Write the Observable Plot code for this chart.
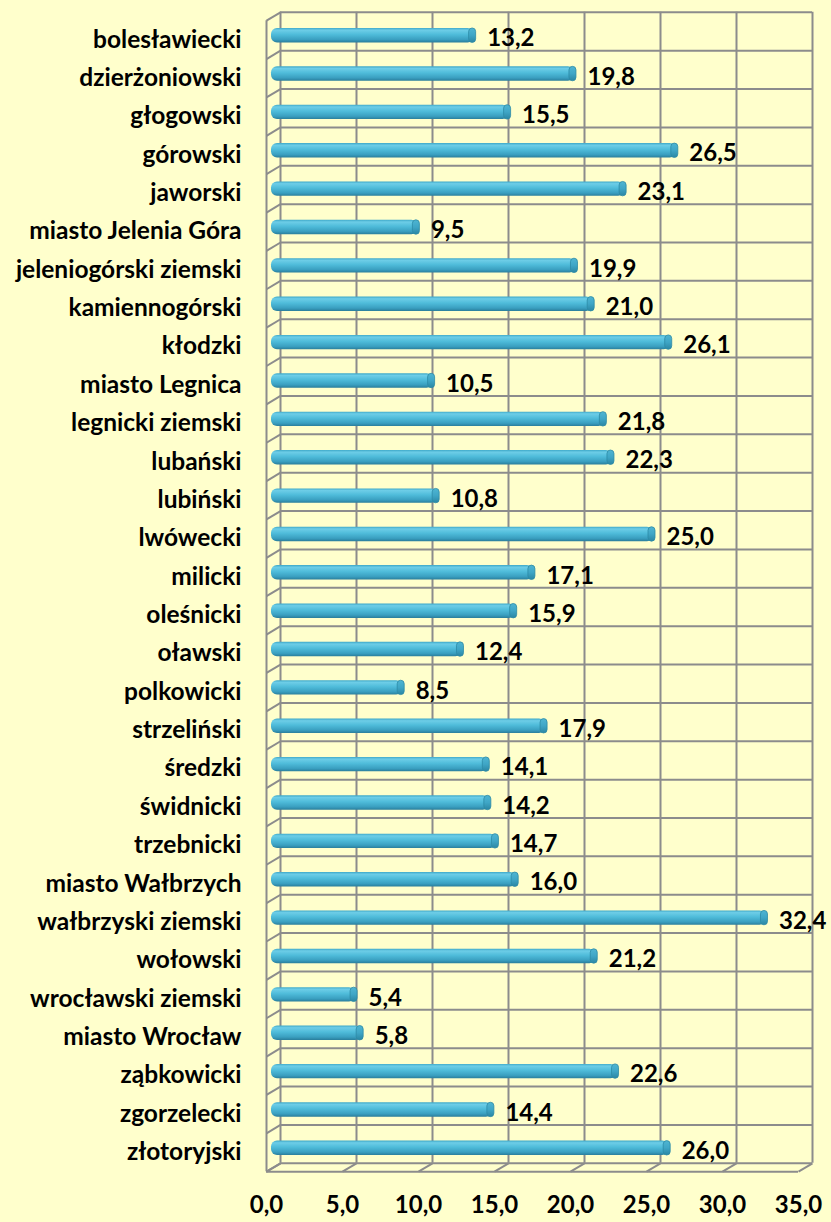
<!DOCTYPE html>
<html>
<head>
<meta charset="utf-8">
<script src="https://cdn.jsdelivr.net/npm/d3@7"></script>
<script src="https://cdn.jsdelivr.net/npm/@observablehq/plot@0.6"></script>
<style>
  html, body { margin: 0; padding: 0; background: #FFFFCC; }
  #chart svg { display: block; font-family: Lato, "Open Sans", sans-serif; font-weight: bold; color: #000; }
</style>
</head>
<body>
<div id="chart"></div>
<script>
const names = [
  "bolesławiecki", "dzierżoniowski", "głogowski", "górowski", "jaworski",
  "miasto Jelenia Góra", "jeleniogórski ziemski", "kamiennogórski", "kłodzki", "miasto Legnica",
  "legnicki ziemski", "lubański", "lubiński", "lwówecki", "milicki",
  "oleśnicki", "oławski", "polkowicki", "strzeliński", "średzki",
  "świdnicki", "trzebnicki", "miasto Wałbrzych", "wałbrzyski ziemski", "wołowski",
  "wrocławski ziemski", "miasto Wrocław", "ząbkowicki", "zgorzelecki", "złotoryjski"
];
const values = [
  13.2, 19.8, 15.5, 26.5, 23.1,
  9.5, 19.9, 21.0, 26.1, 10.5,
  21.8, 22.3, 10.8, 25.0, 17.1,
  15.9, 12.4, 8.5, 17.9, 14.1,
  14.2, 14.7, 16.0, 32.4, 21.2,
  5.4, 5.8, 22.6, 14.4, 26.0
];
const xTicks = [0, 5, 10, 15, 20, 25, 30, 35];

const data = names.map((name, i) => ({name, i, value: values[i]}));
const fmt = (v) => v.toFixed(1).replace(".", ",");

const W = 831, H = 1222;
const ML = 273, MR = 26, MT = 16, MB = 55;
const xMax = 35;
const n = names.length;
const kx = (W - ML - MR) / xMax;
const ky = (H - MT - MB) / n;
const ox = 7 / kx;      // depth offset in x (data units)
const oy = 4.2 / ky;    // depth offset in y (index units)
const halfBar = 7.2 / ky;

const boundaries = d3.range(n + 1).map(k => k - 0.5);
const yTop = -0.5, yBottom = n - 0.5;
const grid = {stroke: "#8C8C8C", strokeWidth: 2};

const plot = Plot.plot({
  width: W, height: H,
  marginLeft: ML, marginRight: MR, marginTop: MT, marginBottom: MB,
  x: {domain: [0, xMax]},
  y: {domain: [yTop, yBottom], reverse: true},
  style: {background: "#FFFFCC", overflow: "visible"},
  marks: [
    // back wall
    Plot.ruleX(xTicks, {x: t => t + ox, y1: yTop - oy, y2: yBottom - oy, ...grid}),
    Plot.ruleY(boundaries, {y: b => b - oy, x1: ox, x2: xMax + ox, ...grid}),
    // left side wall
    Plot.link(boundaries, {x1: ox, y1: b => b - oy, x2: -ox, y2: b => b + oy, ...grid}),
    Plot.ruleX([-ox], {y1: yTop + oy, y2: yBottom + oy, ...grid}),
    // floor
    Plot.link(xTicks, {x1: t => t + ox, y1: yBottom - oy, x2: t => t - ox, y2: yBottom + oy, ...grid}),
    Plot.ruleY([yBottom + oy], {x1: -ox, x2: xMax - ox, ...grid}),
    // bars
    Plot.rect(data, {x1: 0, x2: "value", y1: d => d.i - halfBar, y2: d => d.i + halfBar,
      fill: "url(#barGrad)", rx: 6, insetLeft: -2}),
    // end caps
    Plot.rect(data, {x1: "value", x2: "value", y1: d => d.i - halfBar, y2: d => d.i + halfBar,
      insetLeft: -5, insetRight: -2, rx: 3.5, fill: "url(#capGrad)", stroke: "#2C8AA6", strokeWidth: 0.8}),
    // value labels
    Plot.text(data, {x: "value", y: "i", text: d => fmt(d.value), textAnchor: "start",
      dx: 13, dy: 3, fontSize: 24, fontWeight: "bold", fill: "#000"}),
    // axes
    Plot.axisY({ticks: d3.range(n), tickFormat: i => names[i], tickSize: 0, tickPadding: 32,
      dy: 4, fontSize: 24.5, fontWeight: "bold", label: null}),
    Plot.axisX({ticks: xTicks, tickFormat: fmt, tickSize: 0, tickPadding: 28, dx: -7,
      fontSize: 24, fontWeight: "bold", label: null})
  ]
});

plot.insertAdjacentHTML("afterbegin", `
<defs>
  <linearGradient id="barGrad" x1="0" y1="0" x2="0" y2="1">
    <stop offset="0" stop-color="#3FA9C9"/>
    <stop offset="0.15" stop-color="#6DCDE7"/>
    <stop offset="0.45" stop-color="#4FBCDA"/>
    <stop offset="0.8" stop-color="#3A9FC0"/>
    <stop offset="1" stop-color="#2A7E9C"/>
  </linearGradient>
  <linearGradient id="capGrad" x1="0" y1="0" x2="0" y2="1">
    <stop offset="0" stop-color="#4FB5D2"/>
    <stop offset="0.5" stop-color="#3FA6C6"/>
    <stop offset="1" stop-color="#2B86A3"/>
  </linearGradient>
</defs>`);

document.getElementById("chart").appendChild(plot);
</script>
</body>
</html>
